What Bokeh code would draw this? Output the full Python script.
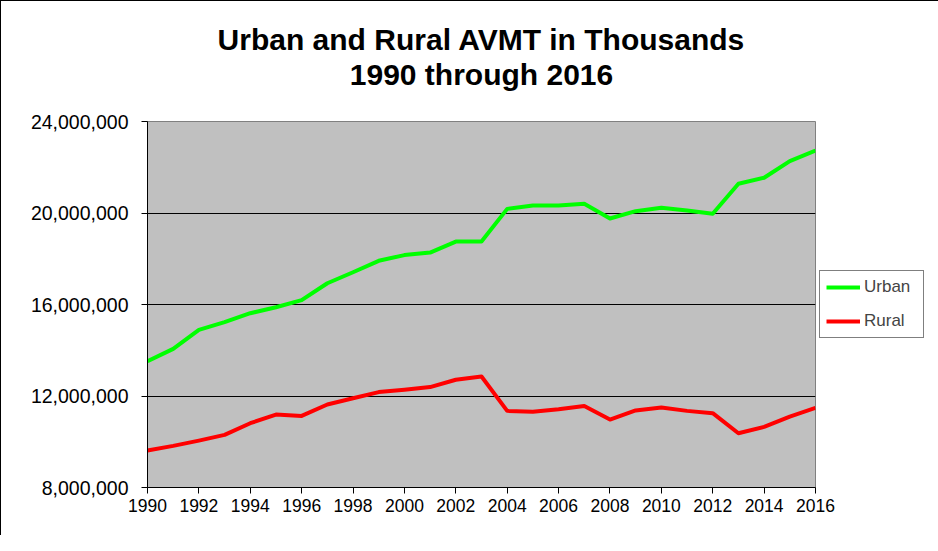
from bokeh.plotting import figure
from bokeh.models import (ColumnDataSource, FixedTicker, NumeralTickFormatter,
                          Legend, LegendItem, Title)
from bokeh.embed import file_html
from bokeh.resources import INLINE

years = list(range(1990, 2017))
urban = [13520000, 14060000, 14890000, 15230000, 15620000, 15880000, 16190000,
         16930000, 17410000, 17910000, 18160000, 18270000, 18750000, 18750000,
         20180000, 20330000, 20330000, 20400000, 19760000, 20080000, 20230000,
         20110000, 19970000, 21280000, 21540000, 22270000, 22730000]
rural = [9620000, 9820000, 10050000, 10300000, 10810000, 11190000, 11130000,
         11630000, 11900000, 12170000, 12270000, 12390000, 12710000, 12850000,
         11350000, 11310000, 11420000, 11560000, 10970000, 11370000, 11500000,
         11350000, 11250000, 10370000, 10650000, 11100000, 11480000]
y_ticks = [8000000, 12000000, 16000000, 20000000, 24000000]
x_ticks = list(range(1990, 2017, 2))
title_line1 = "Urban and Rural AVMT in Thousands"
title_line2 = "1990 through 2016"

src = ColumnDataSource(dict(year=years, urban=urban, rural=rural))

FONT = "Liberation Sans"

p = figure(frame_width=668, frame_height=366,
           x_range=(1990, 2016), y_range=(8000000, 24000000),
           output_backend="svg", toolbar_location=None,
           min_border_left=146, min_border_right=0, min_border_top=120,
           min_border_bottom=48,
           styles={"border-left": "1px solid #000000", "border-top": "1px solid #000000"})

p.background_fill_color = "#C0C0C0"
p.border_fill_color = "white"
p.outline_line_color = "#808080"
p.outline_line_width = 1

# outer title line
p.title.text = title_line1
p.title.align = "center"
p.title.text_font = FONT
p.title.text_font_size = "30px"
p.title.text_font_style = "bold"
p.title.text_color = "black"
p.title.standoff = 0

# blank spacer between the title and the plot area (added first: closest to the plot)
spacer = Title(text=" ", align="center", text_font=FONT, text_font_size="2px",
               standoff=27)
p.add_layout(spacer, "above")

# second title line
t2 = Title(text=title_line2, align="center", text_font=FONT, text_font_size="30px",
           text_font_style="bold", text_color="black", standoff=0)
p.add_layout(t2, "above")

p.xgrid.visible = False
p.ygrid.grid_line_color = "black"
p.ygrid.grid_line_width = 1
p.ygrid.ticker = FixedTicker(ticks=y_ticks)

p.yaxis.ticker = FixedTicker(ticks=y_ticks)
p.yaxis.formatter = NumeralTickFormatter(format="0,0")
p.xaxis.ticker = FixedTicker(ticks=x_ticks)

for ax in (p.xaxis[0], p.yaxis[0]):
    ax.axis_line_color = "black"
    ax.axis_line_width = 1
    ax.major_tick_line_color = "black"
    ax.major_tick_in = 0
    ax.minor_tick_line_color = None
    ax.major_label_text_font = FONT
    ax.major_label_text_color = "black"

p.yaxis.major_tick_out = 6
p.yaxis.major_label_standoff = 13
p.yaxis.major_label_text_font_size = "19.5px"
p.xaxis.major_tick_out = 6
p.xaxis.major_label_standoff = 5
p.xaxis.major_label_text_font_size = "17.5px"

r_u = p.line("year", "urban", source=src, line_color="#00FF00", line_width=4,
             line_join="round")
r_r = p.line("year", "rural", source=src, line_color="#FF0000", line_width=4,
             line_join="round")

legend = Legend(items=[LegendItem(label="Urban", renderers=[r_u]),
                       LegendItem(label="Rural", renderers=[r_r])],
                location="center_left", padding=6, spacing=14, margin=4,
                glyph_height=18, label_height=18, glyph_width=34,
                label_standoff=4, label_width=53,
                label_text_font=FONT, label_text_font_size="17px",
                border_line_color="black", border_line_width=1,
                background_fill_color="white", background_fill_alpha=1)
p.add_layout(legend, "right")

open("out.html", "w").write(file_html(p, INLINE))
